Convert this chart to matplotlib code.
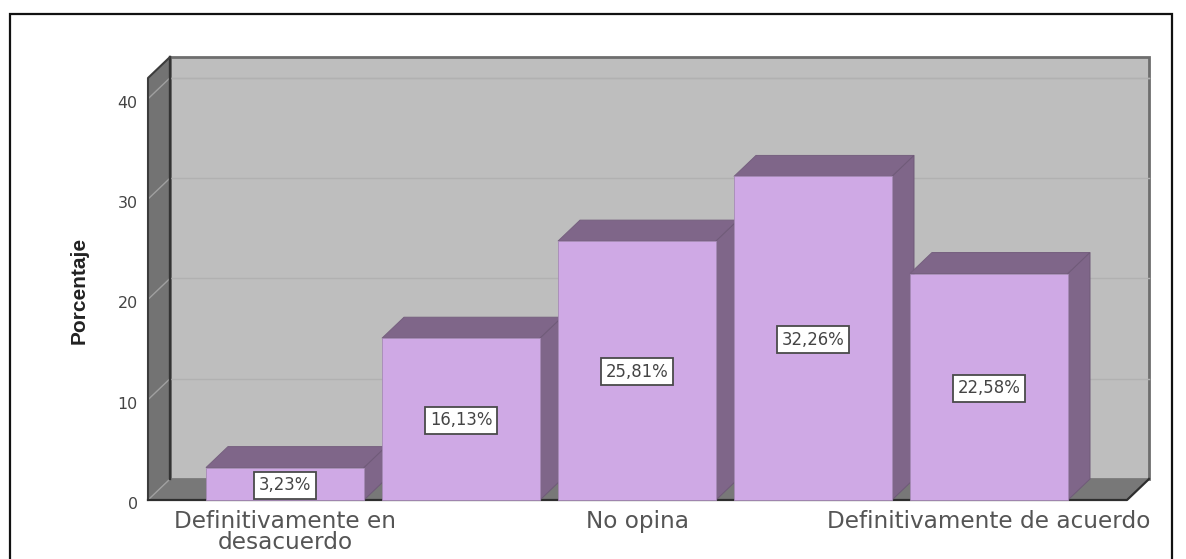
import matplotlib.pyplot as plt
from matplotlib.patches import Polygon, Rectangle
from matplotlib.transforms import ScaledTranslation

# Data
categories = ["Definitivamente en\ndesacuerdo", "", "No opina", "", "Definitivamente de acuerdo"]
values = [3.23, 16.13, 25.81, 32.26, 22.58]
value_labels = ["3,23%", "16,13%", "25,81%", "32,26%", "22,58%"]
y_ticks = [0, 10, 20, 30, 40]

W, H = 1186, 559
# front plane of the fake 3d box, in pixels
LEFT, RIGHT, BASE, PX_PER_UNIT = 148, 1127, 500, 10.03
X0, PITCH = 285, 176
DEPTH_X, DEPTH_Y = 22, 21

fig = plt.figure(figsize=(W / 100, H / 100), dpi=100, facecolor="white")
ymax = (BASE - 78) / PX_PER_UNIT
ax = fig.add_axes([LEFT / W, 1 - BASE / H, (RIGHT - LEFT) / W, (BASE - 78) / H])
ax.set_xlim((LEFT - X0) / PITCH, (RIGHT - X0) / PITCH)
ax.set_ylim(0, ymax)
xmin, xmax = ax.get_xlim()
dx = DEPTH_X / PITCH
dy = DEPTH_Y / PX_PER_UNIT
bar_w = 158 / PITCH


def poly(points, face, edge="none", lw=0.0, z=1):
    ax.add_patch(Polygon(points, closed=True, facecolor=face, edgecolor=edge,
                         linewidth=lw, zorder=z, clip_on=False))


# back wall, side wall, floor
poly([(xmin + dx, dy), (xmax + dx, dy), (xmax + dx, ymax + dy), (xmin + dx, ymax + dy)],
     "#bebebe", "#6e6e6e", 2.0)
poly([(xmin, 0), (xmin + dx, dy), (xmin + dx, ymax + dy), (xmin, ymax)],
     "#737373", "none", 0, 2)
poly([(xmin, 0), (xmax, 0), (xmax + dx, dy), (xmin + dx, dy)],
     "#787878", "none", 0, 2)
# gridlines on side wall and back wall
for t in y_ticks:
    ax.plot([xmin + dx, xmax + dx], [t + dy, t + dy], color="#b1b1b1", lw=1.0, zorder=1.5, clip_on=False)
    ax.plot([xmin, xmin + dx], [t, t + dy], color="#a0a0a0", lw=1.0, zorder=3, clip_on=False)
ax.plot([xmin + dx, xmax + dx], [ymax, ymax], color="#b1b1b1", lw=1.0, zorder=1.5, clip_on=False)
# dark outline of the box
ax.plot([xmin + dx, xmin + dx], [dy, ymax + dy], color="#333333", lw=1.7, zorder=3, clip_on=False)
ax.plot([xmin, xmin, xmin + dx], [0, ymax, ymax + dy], color="#3c3c3c", lw=1.5, zorder=3, clip_on=False)
ax.plot([xmin, xmax, xmax + dx], [0, 0, dy], color="#2e2e2e", lw=1.6, zorder=3, clip_on=False)

# bars
for i, (v, lab) in enumerate(zip(values, value_labels)):
    l, r = i - bar_w / 2, i + bar_w / 2
    poly([(l, v), (r, v), (r + dx, v + dy), (l + dx, v + dy)], "#7f6689", "#76607f", 0.7, 4 + i)
    poly([(r, 0), (r + dx, dy), (r + dx, v + dy), (r, v)], "#7f6689", "#6f5a78", 0.7, 4 + i)
    poly([(l, 0), (r, 0), (r, v), (l, v)], "#cfa9e5", "#a68bb6", 0.6, 4 + i)
    ax.annotate(lab, (i, v / 2), xytext=(0, -1), textcoords="offset points", ha="center", va="center",
                fontsize=11.9, color="#444444", family="DejaVu Sans", zorder=20,
                bbox=dict(boxstyle="square,pad=0.27", facecolor="white", edgecolor="#4a4a4a", linewidth=1.3))

for s in ax.spines.values():
    s.set_visible(False)
ax.patch.set_visible(False)
ax.set_yticks(y_ticks)
ax.set_yticklabels([str(t) for t in y_ticks], fontsize=11.4, color="#444444", family="DejaVu Sans")
ax.set_xticks(range(5))
ax.set_xticklabels(categories, fontsize=16.7, color="#555555", family="DejaVu Sans", linespacing=0.88)
ax.tick_params(axis="both", length=0)
ax.tick_params(axis="y", pad=7.5)
ax.tick_params(axis="x", pad=7.5)
# y labels sit a little under their gridline in the original
for label in ax.get_yticklabels():
    label.set_transform(label.get_transform() + ScaledTranslation(0, -3 / 100, fig.dpi_scale_trans))

fig.text(79 / W, 1 - 290 / H, "Porcentaje", rotation=90, ha="center", va="center", fontsize=15,
         fontweight="bold", color="#222222", family="Liberation Sans")

# frame around the picture
fig.add_artist(Rectangle((9.5 / W, -0.02), (1172 - 9.5) / W, 1.02 - 14 / H, transform=fig.transFigure,
                         fill=False, edgecolor="#111111", linewidth=1.6))

fig.savefig("out.png", dpi=100)
